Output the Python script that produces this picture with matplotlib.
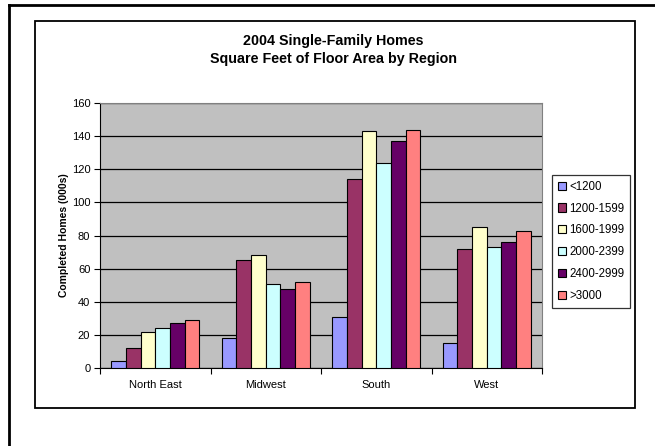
import matplotlib
matplotlib.use("Agg")
from matplotlib import pyplot as plt
from matplotlib.patches import Rectangle
from matplotlib.lines import Line2D
import numpy as np

plt.rcParams['font.family'] = ['Liberation Sans', 'DejaVu Sans']

regions = ["North East", "Midwest", "South", "West"]
sizes = ["<1200", "1200-1599", "1600-1999", "2000-2399", "2400-2999", ">3000"]
# completed homes (000s) per size class, one list per region order above
lt1200 = [4, 18, 31, 15]
s1200 = [12, 65, 114, 72]
s1600 = [22, 68, 143, 85]
s2000 = [24, 51, 124, 73]
s2400 = [27, 48, 137, 76]
gt3000 = [29, 52, 144, 83]
series = [lt1200, s1200, s1600, s2000, s2400, gt3000]
colors = ["#9999FF", "#993366", "#FFFFCC", "#CCFFFF", "#660066", "#FF8080"]

W, H = 655, 446
fig = plt.figure(figsize=(W / 100, H / 100), dpi=100)

def px(x0, y0, x1, y1):
    # pixel box (top-left origin) -> figure fraction rect
    return [x0 / W, 1 - y1 / H, (x1 - x0) / W, (y1 - y0) / H]

# outer frame (only top and left edge visible) and chart box
fig.add_artist(Line2D([9 / W, 1.0], [1 - 5 / H, 1 - 5 / H], color="black", lw=2, transform=fig.transFigure))
fig.add_artist(Line2D([9 / W, 9 / W], [0, 1 - 5 / H], color="black", lw=2, transform=fig.transFigure))
fig.add_artist(Rectangle((35 / W, 1 - 408 / H), 600 / W, 387 / H, fill=False,
                         edgecolor="black", lw=1.3, transform=fig.transFigure))

ax = fig.add_axes(px(100, 103, 542, 368))
ax.set_facecolor("#C0C0C0")

x = np.arange(len(regions))
bw = 1 / 7.5
for i, (vals, c) in enumerate(zip(series, colors)):
    ax.bar(x + (i - 2.5) * bw, vals, width=bw, color=c, edgecolor="black",
           linewidth=0.8, label=sizes[i], zorder=3)

ax.set_xlim(-0.5, 3.5)
ax.set_ylim(0, 160)
ax.set_yticks(np.arange(0, 161, 20))
ax.yaxis.grid(True, color="black", lw=0.9, zorder=1)
ax.set_axisbelow(True)
ax.tick_params(axis="y", direction="out", length=4, width=0.8, labelsize=8, pad=3)

ax.set_xticks(np.arange(-0.5, 3.6, 1))
ax.set_xticklabels([])
ax.set_xticks(x, minor=True)
ax.set_xticklabels(regions, minor=True)
ax.tick_params(axis="x", which="major", direction="out", length=4, width=0.8)
ax.tick_params(axis="x", which="minor", length=0, labelsize=8, pad=9)

for s in ["top", "right"]:
    ax.spines[s].set_color("#808080")
for s in ["left", "bottom"]:
    ax.spines[s].set_color("black")

ax.set_ylabel("Completed Homes (000s)", fontsize=7.5, fontweight="bold", labelpad=2)

fig.text(333 / W, 1 - 50 / H, "2004 Single-Family Homes\nSquare Feet of Floor Area by Region",
         ha="center", va="center", fontsize=10.3, fontweight="bold", linespacing=1.45)

leg = fig.legend(loc="upper left", bbox_to_anchor=(552 / W, 1 - 175 / H), fontsize=8.3,
                 frameon=True, fancybox=False, edgecolor="black", handlelength=0.7,
                 handleheight=0.7, handletextpad=0.3, labelspacing=0.85, borderpad=0.5,
                 borderaxespad=0)
leg.get_frame().set_linewidth(0.9)

fig.savefig("out.png", dpi=100)
